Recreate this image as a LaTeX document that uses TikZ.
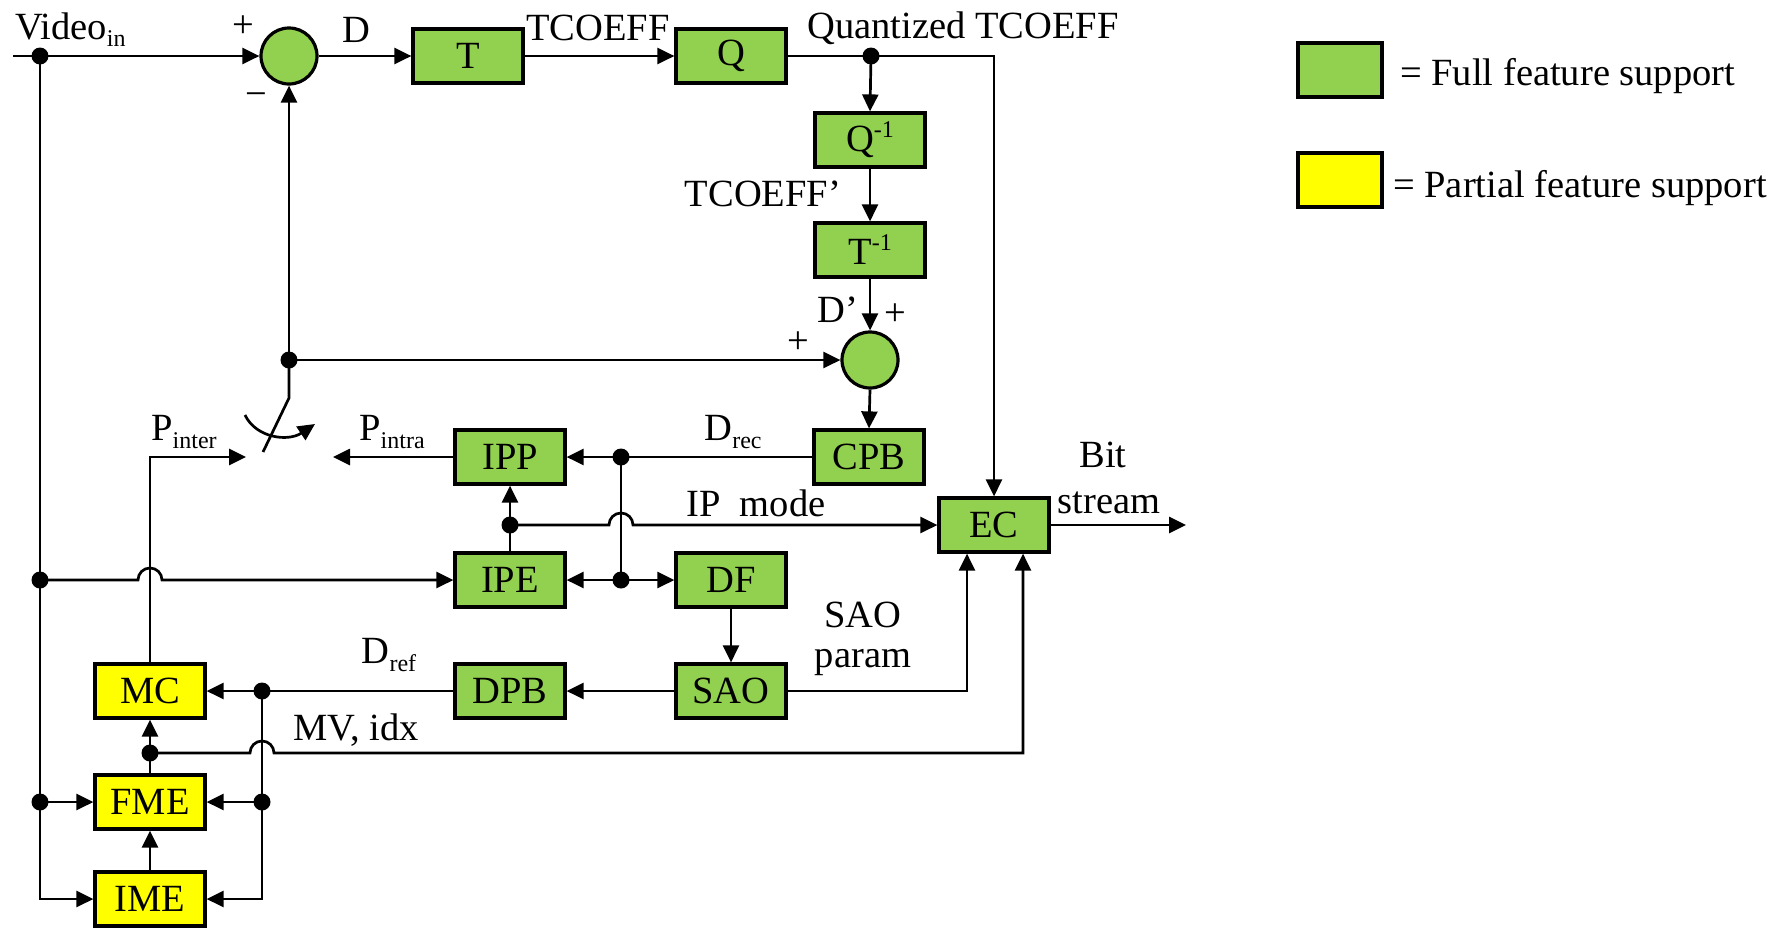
\documentclass[tikz,border=0pt]{standalone}
\usepackage{fontspec}
\setmainfont{Liberation Serif}
\usetikzlibrary{arrows.meta}
\definecolor{fullg}{HTML}{92D050}
\definecolor{party}{HTML}{FFFF00}
\newcommand\lowsub[1]{\raisebox{-0.45ex}{\fontsize{24}{24}\selectfont #1}}
\newcommand\upsup[1]{\raisebox{0.8ex}{\fontsize{24}{24}\selectfont #1}}
\begin{document}
\begin{tikzpicture}[x=1pt,y=-1pt,
  every node/.style={font=\fontsize{38.5}{44}\selectfont, inner sep=0pt},
  blk/.style={draw, line width=3.2pt, fill=fullg, minimum width=110pt, minimum height=54pt},
  pblk/.style={blk, fill=party},
  sumc/.style={draw, line width=3.2pt, fill=fullg, circle, minimum size=56pt},
  con/.style={line width=2.7pt},
  arr/.style={con, -{Triangle[length=17pt,width=16pt]}},
  jdot/.style={circle, fill=black, minimum size=17pt, inner sep=0pt},
]
\useasboundingbox (0,0) rectangle (1781,927);

% blocks
\node[sumc] (sum1) at (289,56) {};
\node[blk] (T) at (468,56) {T};
\node[blk] (Q) at (731,56) {Q};
\node[blk] (Qi) at (870,140) {Q\upsup{-1}};
\node[blk] (Ti) at (870,250) {T\upsup{-1}};
\node[sumc] (sum2) at (870,360) {};
\node[blk] (CPB) at (869,457) {CPB};
\node[blk] (IPP) at (510,457) {IPP};
\node[blk] (IPE) at (510,580) {IPE};
\node[blk] (DF) at (731,580) {DF};
\node[blk] (EC) at (994,525) {EC};
\node[blk] (SAO) at (731,691) {SAO};
\node[blk] (DPB) at (510,691) {DPB};
\node[pblk] (MC) at (150,691) {MC};
\node[pblk] (FME) at (150,802) {FME};
\node[pblk] (IME) at (150,899) {IME};

% legend
\node[blk, minimum width=84pt] (lgG) at (1340,70) {};
\node[anchor=west] (lgGt) at (1400,76) {= Full feature support};
\node[pblk, minimum width=84pt] (lgY) at (1340,180) {};
\node[anchor=west] (lgYt) at (1393,188) {= Partial feature support};

% junction coordinates
\coordinate (vin) at (13,56);
\coordinate (vd1) at (40,56);
\coordinate (vd2) at (40,580);
\coordinate (vd3) at (40,802);
\coordinate (qd) at (871,56);
\coordinate (fb) at (289,360);
\coordinate (sw1) at (289,398);
\coordinate (sw2) at (263,452);
\coordinate (rd1) at (621,457);
\coordinate (rd2) at (621,580);
\coordinate (ipd) at (510,525);
\coordinate (pintra) at (333,457);
\coordinate (pinter) at (246,457);
\coordinate (refd) at (262,691);
\coordinate (refd2) at (262,802);
\coordinate (mvd) at (150,753);
\coordinate (bsout) at (1186,525);

% connectors
\draw[arr] (vin) -- (sum1.west);
\draw[arr] (sum1.east) -- (T.west);
\draw[arr] (T.east) -- (Q.west);
\draw[con] (Q.east) -- (qd);
\draw[arr] (qd) -| (EC.north);
\draw[arr] (qd) -- (Qi.north);
\draw[arr] (Qi.south) -- (Ti.north);
\draw[arr] (Ti.south) -- (sum2.north);
\draw[arr] (sum2.south) -- (CPB.north);
\draw[arr] (fb) -- (sum2.west);
\draw[arr] (fb) -- (sum1.south);
\draw[con] (fb) -- (sw1) -- (sw2);
\draw[arr] (245,415) .. controls (256,438) and (288,442) .. (315,424);
\draw[con] (CPB.west) -- (rd1);
\draw[arr] (rd1) -- (IPP.east);
\draw[arr] (IPP.west) -- (pintra);
\draw[con] (rd1) -- (rd2);
\draw[arr] (rd2) -- (IPE.east);
\draw[arr] (rd2) -- (DF.west);
\draw[con] (IPE.north) -- (ipd);
\draw[arr] (ipd) -- (IPP.south);
\draw[arr] (ipd) -- (609,525) arc[start angle=180,end angle=0,radius=12pt] -- (EC.west);
\draw[arr] (vd2) -- (138,580) arc[start angle=180,end angle=0,radius=12pt] -- (IPE.west);
\draw[arr] (MC.north) |- (pinter);
\draw[arr] (DF.south) -- (SAO.north);
\draw[arr] (SAO.east) -| ([xshift=-27pt]EC.south);
\draw[arr] (SAO.west) -- (DPB.east);
\draw[con] (DPB.west) -- (refd);
\draw[arr] (refd) -- (MC.east);
\draw[con] (refd) -- (refd2);
\draw[arr] (refd2) -- (FME.east);
\draw[arr] (refd2) |- (IME.east);
\draw[con] (FME.north) -- (mvd);
\draw[arr] (mvd) -- (MC.south);
\draw[arr] (mvd) -- (250,753) arc[start angle=180,end angle=0,radius=12pt] -| ([xshift=29pt]EC.south);
\draw[arr] (IME.north) -- (FME.south);
\draw[con] (vd1) -- (vd2) -- (vd3);
\draw[arr] (vd3) -- (FME.west);
\draw[arr] (vd3) |- (IME.west);
\draw[arr] (EC.east) -- (bsout);

% labels
\node[anchor=base west] (lvin) at (15,39) {Video\lowsub{in}};
\node (lp1) at (243,27) {+};
\node (lm1) at (256,100) {−};
\node (lD) at (356,30) {D};
\node (lTC) at (598,28) {TCOEFF};
\node (lQT) at (963,28) {Quantized TCOEFF};
\node (lTCp) at (763,194) {TCOEFF’};
\node (lDp) at (838,310) {D’};
\node (lp2) at (895,315) {+};
\node (lp3) at (798,343) {+};
\node (lpinter) at (184,432) {P\lowsub{inter}};
\node (lpintra) at (392,432) {P\lowsub{intra}};
\node (ldrec) at (733,432) {D\lowsub{rec}};
\node (lipm) at (756,503) {IP\ \ mode};
\node (lbit) at (1103,455) {Bit};
\node (lstream) at (1109,503) {stream};
\node (lsao) at (863,615) {SAO};
\node (lparam) at (863,663) {param};
\node (ldref) at (389,655) {D\lowsub{ref}};
\node (lmv) at (356,730) {MV, idx};

% junction dots
\foreach \p in {vd1,vd2,vd3,qd,fb,rd1,rd2,ipd,refd,refd2,mvd}
  \node[jdot] (dot-\p) at (\p) {};
\end{tikzpicture}
\end{document}
